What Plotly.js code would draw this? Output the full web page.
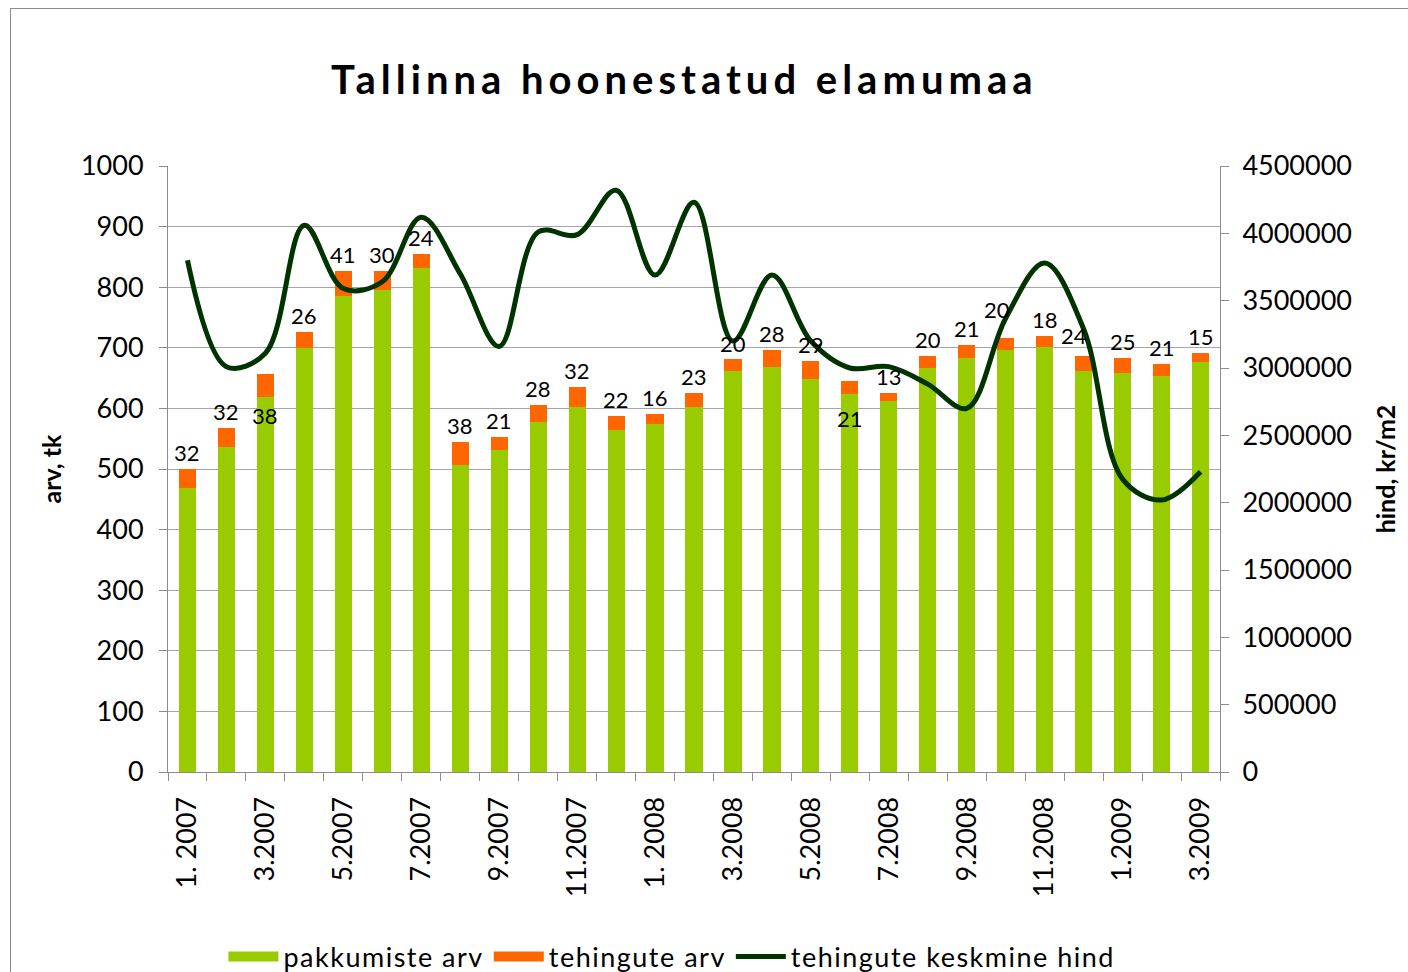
<!DOCTYPE html>
<html>
<head>
<meta charset="utf-8">
<script src="https://cdn.plot.ly/plotly-3.0.1.min.js"></script>
<style>
html, body { margin: 0; padding: 0; background: #fff; overflow: hidden; }
#frame { position: absolute; left: 10px; top: 8px; width: 1440px; height: 1000px; border: 1px solid #8c8c8c; pointer-events: none; z-index: 5; }
#chart { position: absolute; left: 0; top: 0; width: 1408px; height: 972px; }
.gtitle { letter-spacing: 5px; }
.legendtext { letter-spacing: 1.5px; }
</style>
</head>
<body>
<div id="frame"></div>
<div id="chart"></div>
<script>
// ---- data ----
const categories = [
  "1. 2007","2.2007","3.2007","4.2007","5.2007","6.2007","7.2007","8.2007","9.2007","10.2007","11.2007","12.2007",
  "1. 2008","2.2008","3.2008","4.2008","5.2008","6.2008","7.2008","8.2008","9.2008","10.2008","11.2008","12.2008",
  "1.2009","2.2009","3.2009"
];
const tickLabels = [
  "1. 2007","","3.2007","","5.2007","","7.2007","","9.2007","","11.2007","",
  "1. 2008","","3.2008","","5.2008","","7.2008","","9.2008","","11.2008","",
  "1.2009","","3.2009"
];
const pakkumisteArv = [468,536,618,700,786,796,831,507,531,577,603,565,574,603,661,668,649,624,613,666,683,696,701,662,659,653,676];
const tehinguteArv  = [32,32,38,26,41,30,24,38,21,28,32,22,16,23,20,28,29,21,13,20,21,20,18,24,25,21,15];
const keskmineHind  = [3800000,3010000,3110000,4060000,3590000,3640000,4120000,3700000,3160000,4010000,3990000,4320000,
                       3690000,4230000,3200000,3690000,3200000,3000000,3010000,2880000,2700000,3370000,3780000,3290000,
                       2175000,2020000,2230000];

// label nudges (px) for a few manually placed labels in the original
const labelNudge = { 2: {x: 0, y: -58}, 17: {x: 0, y: -54}, 21: {x: -9, y: 12}, 23: {x: -10, y: 4}, 14: {x: 0, y: -1} };

const FONT = "Lato, 'Open Sans', sans-serif";

const traces = [
  {
    type: "bar", name: "pakkumiste arv", x: categories, y: pakkumisteArv,
    marker: {color: "#99CC00"}, hoverinfo: "skip", showlegend: false
  },
  {
    type: "bar", name: "tehingute arv", x: categories, y: tehinguteArv,
    marker: {color: "#FF6600"}, hoverinfo: "skip", showlegend: false
  },
  {
    type: "scatter", mode: "lines", name: "tehingute keskmine hind", x: categories, y: keskmineHind,
    yaxis: "y2", line: {color: "#003300", width: 5, shape: "spline", smoothing: 1.0}, hoverinfo: "skip",
    showlegend: false
  },
  // legend swatches (Excel-style wide rectangles)
  { type: "scatter", mode: "lines", name: "pakkumiste arv", x: [categories[0]], y: [null], line: {color: "#99CC00", width: 20} },
  { type: "scatter", mode: "lines", name: "tehingute arv", x: [categories[0]], y: [null], line: {color: "#FF6600", width: 20} },
  { type: "scatter", mode: "lines", name: "tehingute keskmine hind", x: [categories[0]], y: [null], line: {color: "#003300", width: 5} }
];

// annotation x given as category index (numeric-looking labels would be parsed as numbers)
const annotations = categories.map((c, i) => {
  const n = labelNudge[i] || {x: 0, y: 0};
  return {
    x: i, y: pakkumisteArv[i] + tehinguteArv[i], xref: "x", yref: "y",
    text: String(tehinguteArv[i]), showarrow: false, yanchor: "bottom",
    xshift: n.x, yshift: 1 + n.y,
    font: {family: FONT, size: 22, color: "#000"}
  };
});

const layout = {
  width: 1408, height: 972,
  margin: {l: 168, r: 188, t: 166, b: 200, autoexpand: false},
  paper_bgcolor: "#fff", plot_bgcolor: "#fff",
  barmode: "stack", bargap: 0.56,
  showlegend: true,
  title: {
    text: "Tallinna hoonestatud elamumaa",
    font: {family: FONT, size: 40, color: "#000", weight: "bold"},
    x: 0.486, xanchor: "center", y: 0.918, yanchor: "middle"
  },
  font: {family: FONT, color: "#000"},
  xaxis: {
    type: "category",
    tickmode: "array", tickvals: categories, ticktext: tickLabels,
    tickangle: -90, tickfont: {family: FONT, size: 27, color: "#000"},
    ticks: "outside", ticklen: 8, tickcolor: "#8c8c8c", tickson: "boundaries",
    ticklabelstandoff: 13,
    showline: true, linecolor: "#8c8c8c", linewidth: 1, showgrid: false,
    range: [-0.5, 26.5], fixedrange: true
  },
  yaxis: {
    range: [0, 1000], dtick: 100, tick0: 0,
    tickfont: {family: FONT, size: 27, color: "#000"},
    ticks: "outside", ticklen: 8, tickcolor: "#8c8c8c", ticklabelstandoff: 10,
    showline: true, linecolor: "#8c8c8c", linewidth: 1,
    showgrid: true, gridcolor: "#a6a6a6", gridwidth: 1, zeroline: false,
    title: {text: "arv, tk", font: {family: FONT, size: 25, color: "#000", weight: "bold"}, standoff: 12},
    fixedrange: true
  },
  yaxis2: {
    overlaying: "y", side: "right", range: [0, 4500000], dtick: 500000, tick0: 0,
    tickformat: "d", tickfont: {family: FONT, size: 27, color: "#000"},
    ticks: "outside", ticklen: 8, tickcolor: "#8c8c8c", ticklabelstandoff: 8,
    showline: true, linecolor: "#8c8c8c", linewidth: 1,
    showgrid: false, zeroline: false,
    title: {text: "hind, kr/m2", font: {family: FONT, size: 25, color: "#000", weight: "bold"}, standoff: 26},
    fixedrange: true
  },
  legend: {
    orientation: "h", x: 0.479, xanchor: "center", y: -0.305, yanchor: "middle",
    font: {family: FONT, size: 27, color: "#000"}, traceorder: "normal",
    itemwidth: 50
  },
  annotations: annotations
};

Plotly.newPlot("chart", traces, layout, {displayModeBar: false, staticPlot: true});
</script>
</body>
</html>
